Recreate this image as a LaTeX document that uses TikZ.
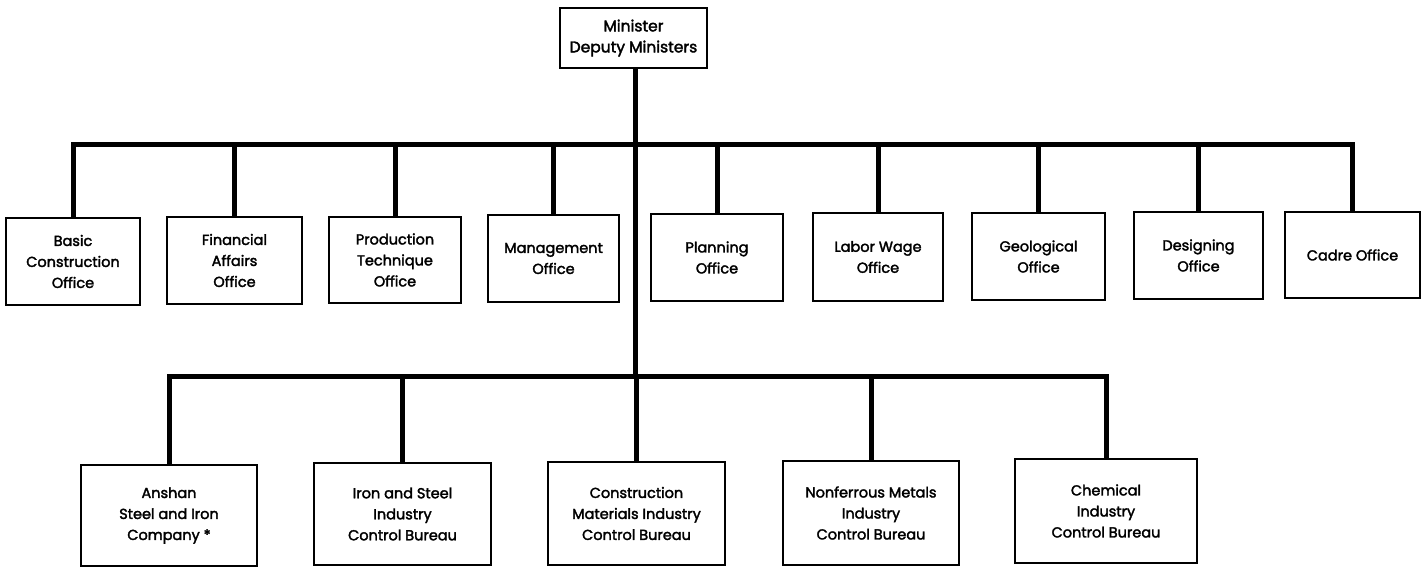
\documentclass[tikz,border=0pt]{standalone}
\usepackage{fontspec}
\setmainfont{Poppins}
\newfontfamily\medfont{Poppins}[FakeBold=2.2]
\begin{document}
\begin{tikzpicture}[x=1pt,y=-1pt,
  box/.style={draw,line width=1.8pt,align=center,inner sep=2pt,
    font=\medfont\fontsize{14.5}{21}\selectfont},
  bus/.style={line width=5pt}]
\useasboundingbox[fill=white] (0,0) rectangle (1426,567);
% top
\node[box,minimum width=147,minimum height=60,font=\medfont\fontsize{15.5}{21}\selectfont] (min) at (633.5,38) {Minister\\Deputy Ministers};
% row 1
\node[box,minimum width=134,minimum height=87] (basic) at (73,261.5) {Basic\\Construction\\Office};
\node[box,minimum width=135,minimum height=87] (fin) at (234.5,260.5) {Financial\\Affairs\\Office};
\node[box,minimum width=132,minimum height=86] (prod) at (395,260) {Production\\Technique\\Office};
\node[box,minimum width=131,minimum height=87] (man) at (553.5,258.5) {Management\\Office};
\node[box,minimum width=132,minimum height=87] (plan) at (717,257.5) {Planning\\Office};
\node[box,minimum width=130,minimum height=88] (lab) at (878,257) {Labor Wage\\Office};
\node[box,minimum width=133,minimum height=87] (geo) at (1038.5,256.5) {Geological\\Office};
\node[box,minimum width=129,minimum height=87] (des) at (1198.5,255.5) {Designing\\Office};
\node[box,minimum width=135,minimum height=86] (cad) at (1352.5,255) {Cadre Office};
% row 2
\node[box,minimum width=176,minimum height=101] (ansh) at (169,515.5) {Anshan\\Steel and Iron\\Company *};
\node[box,minimum width=177,minimum height=102] (iron) at (402.5,514) {Iron and Steel\\Industry\\Control Bureau};
\node[box,minimum width=177,minimum height=103] (cons) at (636.5,513.5) {Construction\\Materials Industry\\Control Bureau};
\node[box,minimum width=176,minimum height=104] (nonf) at (871,513) {Nonferrous Metals\\Industry\\Control Bureau};
\node[box,minimum width=182,minimum height=104] (chem) at (1106,511) {Chemical\\Industry\\Control Bureau};
% bus levels
\coordinate (busA) at (635,144);
\coordinate (busB) at (635,376);
% main trunk
\draw[bus] (min.south -| busA) -- (busB);
% upper bus
\draw[bus] (basic.north) |- (busA) -| (cad.north);
\foreach \n in {fin,prod,man,plan,lab,geo,des}
  \draw[bus] (\n.north) -- (\n.north |- busA);
% lower bus
\draw[bus] (ansh.north) |- (busB) -| (chem.north);
\foreach \n in {iron,cons,nonf}
  \draw[bus] (\n.north) -- (\n.north |- busB);
\end{tikzpicture}
\end{document}
